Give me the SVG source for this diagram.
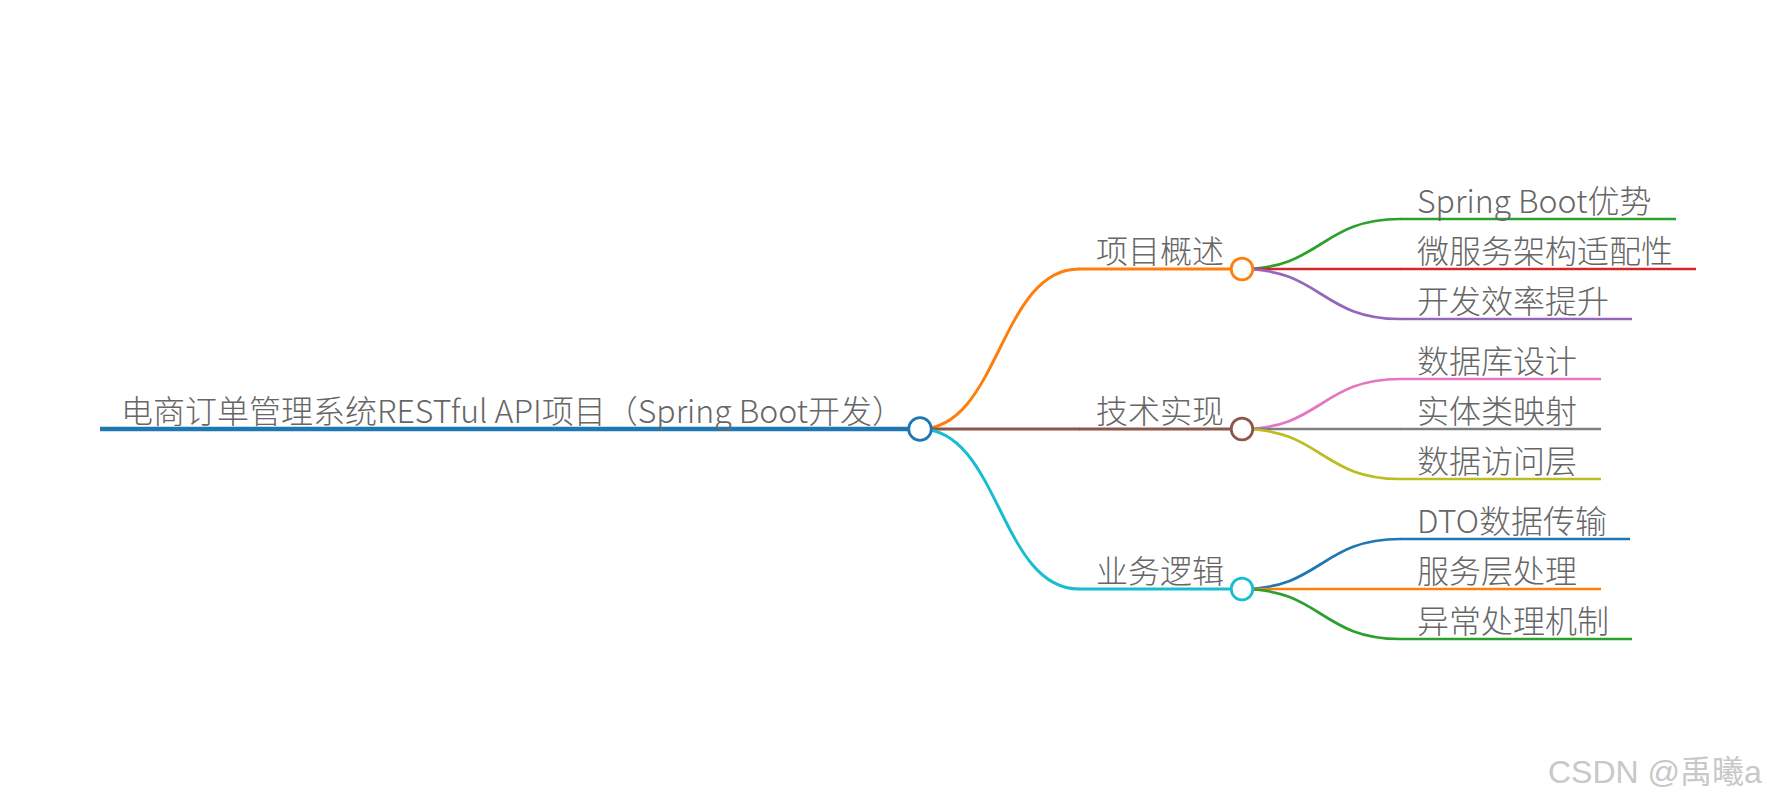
<svg xmlns="http://www.w3.org/2000/svg" width="1767" height="807" viewBox="0 0 1767 807">
  <style>
    .t { font-family: "Noto Sans CJK SC", "Noto Sans", sans-serif; font-size: 32px; font-weight: 300; fill: #666666; }
    .lk { fill: none; stroke-linecap: round; }
    .l1 { stroke-width: 3; }
    .l2 { stroke-width: 2.7; }
    .ul0 { stroke-width: 4.3; fill: none; }
    .ul1 { stroke-width: 3; fill: none; }
    .ul2 { stroke-width: 2.7; fill: none; }
    .c { fill: #ffffff; stroke-width: 2.8; }
    .wm { font-family: "Liberation Sans", "Noto Sans CJK SC", sans-serif; font-size: 32px; fill: #c8c8c8; }
  </style>
  <rect width="1767" height="807" fill="#ffffff"/>

  <g id="connectors">
    <path class="lk l1" stroke="#ff7f0e" d="M920,429 C999.5,429 999.5,269 1079,269"/>
    <path class="lk l1" stroke="#8c564b" d="M920,429 L1079,429"/>
    <path class="lk l1" stroke="#17becf" d="M920,429 C999.5,429 999.5,589 1079,589"/>

    <path class="lk l2" stroke="#2ca02c" d="M1242,269 C1321,269 1321,219 1400,219"/>
    <path class="lk l2" stroke="#d62728" d="M1242,269 L1400,269"/>
    <path class="lk l2" stroke="#9467bd" d="M1242,269 C1321,269 1321,319 1400,319"/>

    <path class="lk l2" stroke="#e377c2" d="M1242,429 C1321,429 1321,379 1400,379"/>
    <path class="lk l2" stroke="#7f7f7f" d="M1242,429 L1400,429"/>
    <path class="lk l2" stroke="#bcbd22" d="M1242,429 C1321,429 1321,479 1400,479"/>

    <path class="lk l2" stroke="#1f77b4" d="M1242,589 C1321,589 1321,539 1400,539"/>
    <path class="lk l2" stroke="#ff7f0e" d="M1242,589 L1400,589"/>
    <path class="lk l2" stroke="#2ca02c" d="M1242,589 C1321,589 1321,639 1400,639"/>
  </g>

  <g id="root">
    <line class="ul0" stroke="#1f77b4" x1="100" y1="429" x2="920" y2="429"/>
    <text class="t" x="121" y="423">电商订单管理系统RESTful API项目（Spring Boot开发）</text>
    <circle class="c" stroke="#1f77b4" cx="920" cy="429" r="11.3"/>
  </g>

  <g id="n-overview">
    <line class="ul1" stroke="#ff7f0e" x1="1079" y1="269" x2="1242" y2="269"/>
    <text class="t" x="1096" y="263">项目概述</text>
    <circle class="c" stroke="#ff7f0e" cx="1242" cy="269" r="10.8"/>
  </g>
  <g id="n-tech">
    <line class="ul1" stroke="#8c564b" x1="1079" y1="429" x2="1242" y2="429"/>
    <text class="t" x="1096" y="423">技术实现</text>
    <circle class="c" stroke="#8c564b" cx="1242" cy="429" r="10.8"/>
  </g>
  <g id="n-biz">
    <line class="ul1" stroke="#17becf" x1="1079" y1="589" x2="1242" y2="589"/>
    <text class="t" x="1096" y="583">业务逻辑</text>
    <circle class="c" stroke="#17becf" cx="1242" cy="589" r="10.8"/>
  </g>

  <g id="n-springboot">
    <line class="ul2" stroke="#2ca02c" x1="1400" y1="219" x2="1676" y2="219"/>
    <text class="t" x="1417" y="213">Spring Boot优势</text>
  </g>
  <g id="n-micro">
    <line class="ul2" stroke="#d62728" x1="1400" y1="269" x2="1696" y2="269"/>
    <text class="t" x="1417" y="263">微服务架构适配性</text>
  </g>
  <g id="n-eff">
    <line class="ul2" stroke="#9467bd" x1="1400" y1="319" x2="1632" y2="319"/>
    <text class="t" x="1417" y="313">开发效率提升</text>
  </g>

  <g id="n-db">
    <line class="ul2" stroke="#e377c2" x1="1400" y1="379" x2="1601" y2="379"/>
    <text class="t" x="1417" y="373">数据库设计</text>
  </g>
  <g id="n-entity">
    <line class="ul2" stroke="#7f7f7f" x1="1400" y1="429" x2="1601" y2="429"/>
    <text class="t" x="1417" y="423">实体类映射</text>
  </g>
  <g id="n-dao">
    <line class="ul2" stroke="#bcbd22" x1="1400" y1="479" x2="1601" y2="479"/>
    <text class="t" x="1417" y="473">数据访问层</text>
  </g>

  <g id="n-dto">
    <line class="ul2" stroke="#1f77b4" x1="1400" y1="539" x2="1630" y2="539"/>
    <text class="t" x="1417" y="533">DTO数据传输</text>
  </g>
  <g id="n-service">
    <line class="ul2" stroke="#ff7f0e" x1="1400" y1="589" x2="1601" y2="589"/>
    <text class="t" x="1417" y="583">服务层处理</text>
  </g>
  <g id="n-exception">
    <line class="ul2" stroke="#2ca02c" x1="1400" y1="639" x2="1632" y2="639"/>
    <text class="t" x="1417" y="633">异常处理机制</text>
  </g>

  <text class="wm" x="1548" y="783">CSDN @禹曦a</text>
</svg>
